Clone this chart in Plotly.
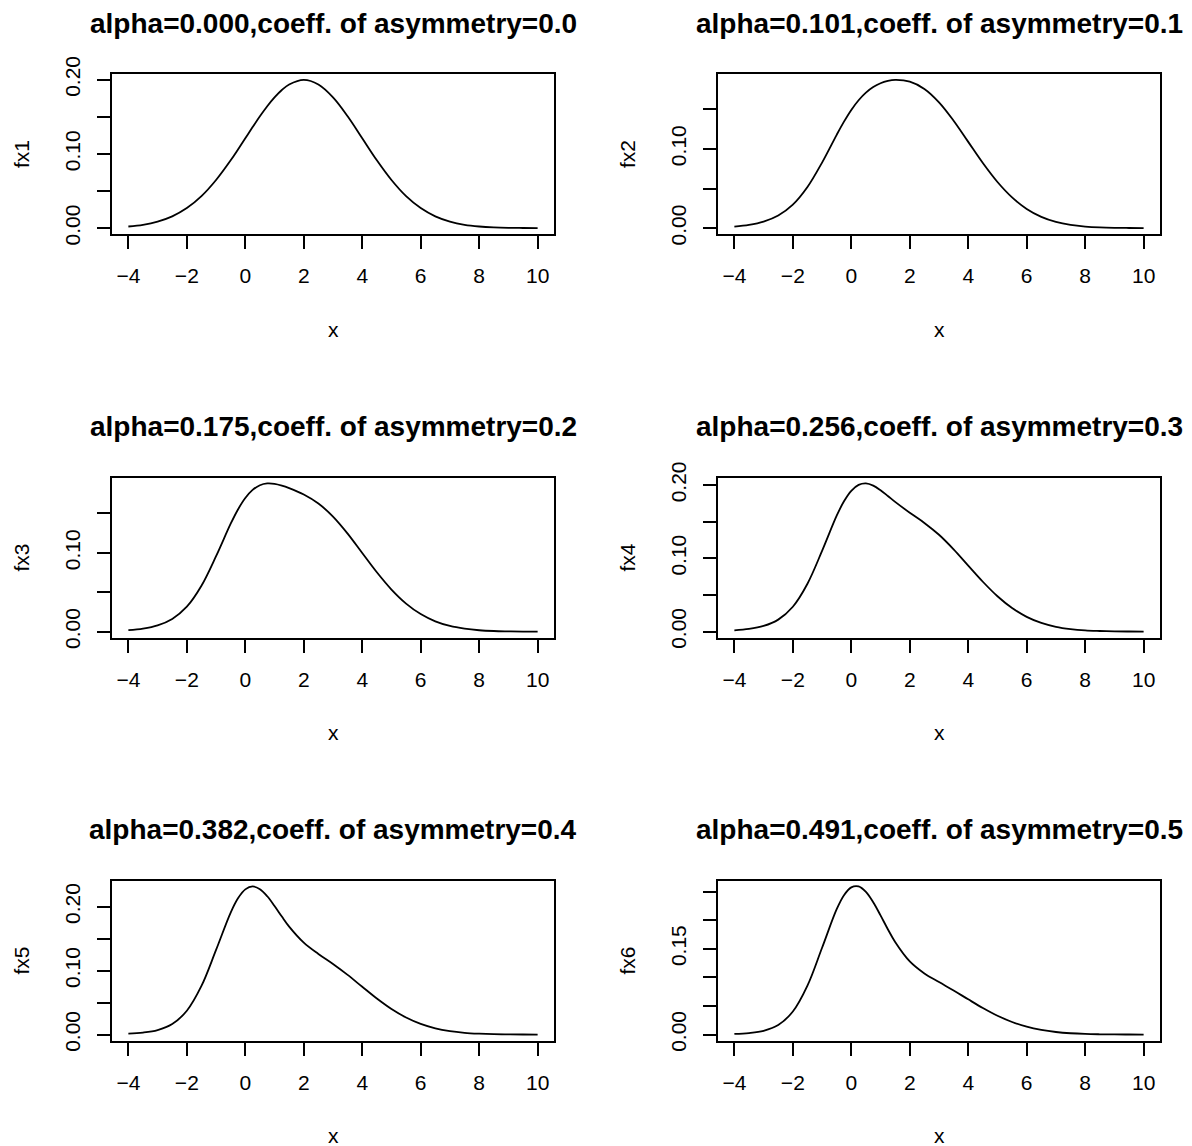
import plotly.graph_objects as go

# ---------------- data ----------------
x = [-4, -3.5, -3, -2.5, -2, -1.5, -1, -0.5, -0.25, 0, 0.25, 0.5, 0.75, 1, 1.25, 1.5,
     2, 2.5, 3, 3.5, 4, 4.5, 5, 5.5, 6, 6.5, 7, 7.5, 8, 8.5, 9, 9.5, 10]

fx1 = [0.0022, 0.0045, 0.0088, 0.0159, 0.0270, 0.0431, 0.0648, 0.0913, 0.1059, 0.1210, 0.1360,
       0.1506, 0.1641, 0.1760, 0.1859, 0.1933, 0.1995, 0.1933, 0.1760, 0.1506, 0.1210, 0.0913,
       0.0648, 0.0431, 0.0270, 0.0159, 0.0088, 0.0045, 0.0022, 0.0010, 0.0004, 0.0002, 0.0001]
fx2 = [0.0020, 0.0042, 0.0083, 0.0160, 0.0297, 0.0519, 0.0827, 0.1177, 0.1343, 0.1491, 0.1613,
       0.1709, 0.1779, 0.1827, 0.1856, 0.1869, 0.1848, 0.1756, 0.1587, 0.1355, 0.1088, 0.0821,
       0.0582, 0.0388, 0.0243, 0.0143, 0.0079, 0.0041, 0.0020, 0.0009, 0.0004, 0.0002, 0.0001]
fx3 = [0.0019, 0.0039, 0.0080, 0.0162, 0.0317, 0.0583, 0.0958, 0.1370, 0.1551, 0.1696, 0.1799,
       0.1858, 0.1881, 0.1876, 0.1854, 0.1822, 0.1740, 0.1626, 0.1460, 0.1244, 0.0998, 0.0753,
       0.0534, 0.0356, 0.0223, 0.0131, 0.0072, 0.0038, 0.0018, 0.0008, 0.0004, 0.0001, 0.0001]
fx4 = [0.0017, 0.0036, 0.0077, 0.0163, 0.0339, 0.0653, 0.1101, 0.1581, 0.1778, 0.1921, 0.2002,
       0.2022, 0.1992, 0.1929, 0.1851, 0.1770, 0.1622, 0.1483, 0.1321, 0.1122, 0.0900, 0.0680,
       0.0482, 0.0321, 0.0201, 0.0118, 0.0065, 0.0034, 0.0016, 0.0008, 0.0003, 0.0001, 0.0000]
fx5 = [0.0014, 0.0031, 0.0071, 0.0165, 0.0373, 0.0761, 0.1325, 0.1909, 0.2132, 0.2272, 0.2318,
       0.2275, 0.2164, 0.2012, 0.1847, 0.1690, 0.1439, 0.1262, 0.1105, 0.0934, 0.0748, 0.0564,
       0.0400, 0.0267, 0.0167, 0.0098, 0.0054, 0.0028, 0.0014, 0.0006, 0.0003, 0.0001, 0.0000]
fx6 = [0.0012, 0.0027, 0.0066, 0.0167, 0.0403, 0.0856, 0.1518, 0.2193, 0.2438, 0.2575, 0.2591,
       0.2495, 0.2314, 0.2084, 0.1843, 0.1620, 0.1280, 0.1070, 0.0918, 0.0771, 0.0616, 0.0465,
       0.0330, 0.0220, 0.0137, 0.0081, 0.0045, 0.0023, 0.0011, 0.0005, 0.0002, 0.0001, 0.0000]

series = [fx1, fx2, fx3, fx4, fx5, fx6]
series_names = ["fx1", "fx2", "fx3", "fx4", "fx5", "fx6"]
titles = [
    "alpha=0.000,coeff. of asymmetry=0.0",
    "alpha=0.101,coeff. of asymmetry=0.1",
    "alpha=0.175,coeff. of asymmetry=0.2",
    "alpha=0.256,coeff. of asymmetry=0.3",
    "alpha=0.382,coeff. of asymmetry=0.4",
    "alpha=0.491,coeff. of asymmetry=0.5",
]
x_tick_vals = [-4, -2, 0, 2, 4, 6, 8, 10]
x_tick_text = ["\u22124", "\u22122", "0", "2", "4", "6", "8", "10"]
y_tick_vals = [
    [0, 0.05, 0.10, 0.15, 0.20],
    [0, 0.05, 0.10, 0.15],
    [0, 0.05, 0.10, 0.15],
    [0, 0.05, 0.10, 0.15, 0.20],
    [0, 0.05, 0.10, 0.15, 0.20],
    [0, 0.05, 0.10, 0.15, 0.20, 0.25],
]
y_tick_text = [
    ["0.00", "", "0.10", "", "0.20"],
    ["0.00", "", "0.10", ""],
    ["0.00", "", "0.10", ""],
    ["0.00", "", "0.10", "", "0.20"],
    ["0.00", "", "0.10", "", "0.20"],
    ["0.00", "", "", "0.15", "", ""],
]

# ---------------- layout geometry ----------------
W, H = 1192, 1146
col_px = [(112, 554), (718, 1160)]
row_px = [(74, 234), (477.5, 637.5), (880.5, 1040.5)]
FONT = "Liberation Sans, Arial, Helvetica, sans-serif"

def px_x(p):
    return p / W

def px_y(p):
    return 1 - p / H

fig = go.Figure()
layout = dict(
    width=W, height=H,
    margin=dict(l=0, r=0, t=0, b=0, pad=0, autoexpand=False),
    paper_bgcolor="white", plot_bgcolor="white",
    showlegend=False,
    font=dict(family=FONT, color="black"),
)
annotations = []

for i, ys in enumerate(series):
    r, c = divmod(i, 2)
    x0, x1 = col_px[c]
    yt, yb = row_px[r]
    ax = "" if i == 0 else str(i + 1)
    fig.add_trace(go.Scatter(
        x=x, y=ys, mode="lines",
        line=dict(color="black", width=1.8, shape="spline", smoothing=1.0),
        xaxis="x" + ax, yaxis="y" + ax, name=series_names[i],
        hoverinfo="skip",
    ))
    ymin, ymax = min(ys), max(ys)
    pad = 0.04 * (ymax - ymin)
    xpad = 0.04 * (x[-1] - x[0])
    layout["xaxis" + ax] = dict(
        domain=[px_x(x0), px_x(x1)], anchor="y" + ax,
        range=[x[0] - xpad, x[-1] + xpad],
        tickvals=x_tick_vals, ticktext=x_tick_text,
        ticks="outside", ticklen=13, tickwidth=1.8, tickcolor="black",
        showline=True, mirror=True, linecolor="black", linewidth=2,
        showgrid=False, zeroline=False, automargin=False,
        tickfont=dict(size=21, family=FONT, color="black"),
        ticklabelstandoff=9,
    )
    layout["yaxis" + ax] = dict(
        domain=[px_y(yb), px_y(yt)], anchor="x" + ax,
        range=[ymin - pad, ymax + pad],
        tickvals=y_tick_vals[i], ticktext=y_tick_text[i],
        tickangle=-90,
        ticks="outside", ticklen=13, tickwidth=1.8, tickcolor="black",
        showline=True, mirror=True, linecolor="black", linewidth=2,
        showgrid=False, zeroline=False, automargin=False,
        tickfont=dict(size=21, family=FONT, color="black"),
        ticklabelstandoff=9,
    )
    # title
    annotations.append(dict(
        text="<b>" + titles[i] + "</b>", xref="paper", yref="paper",
        x=px_x((x0 + x1) / 2), y=px_y(yt - 51), xanchor="center", yanchor="middle",
        showarrow=False, font=dict(size=28, family=FONT, color="black"),
    ))
    # x label
    annotations.append(dict(
        text="x", xref="paper", yref="paper",
        x=px_x((x0 + x1) / 2), y=px_y(yb + 95), xanchor="center", yanchor="middle",
        showarrow=False, font=dict(size=21, family=FONT, color="black"),
    ))
    # y label
    annotations.append(dict(
        text=series_names[i], xref="paper", yref="paper",
        x=px_x(x0 - 91), y=px_y((yt + yb) / 2), xanchor="center", yanchor="middle",
        textangle=-90,
        showarrow=False, font=dict(size=21, family=FONT, color="black"),
    ))

layout["annotations"] = annotations
fig.update_layout(**layout)
fig.write_html("out.html")
